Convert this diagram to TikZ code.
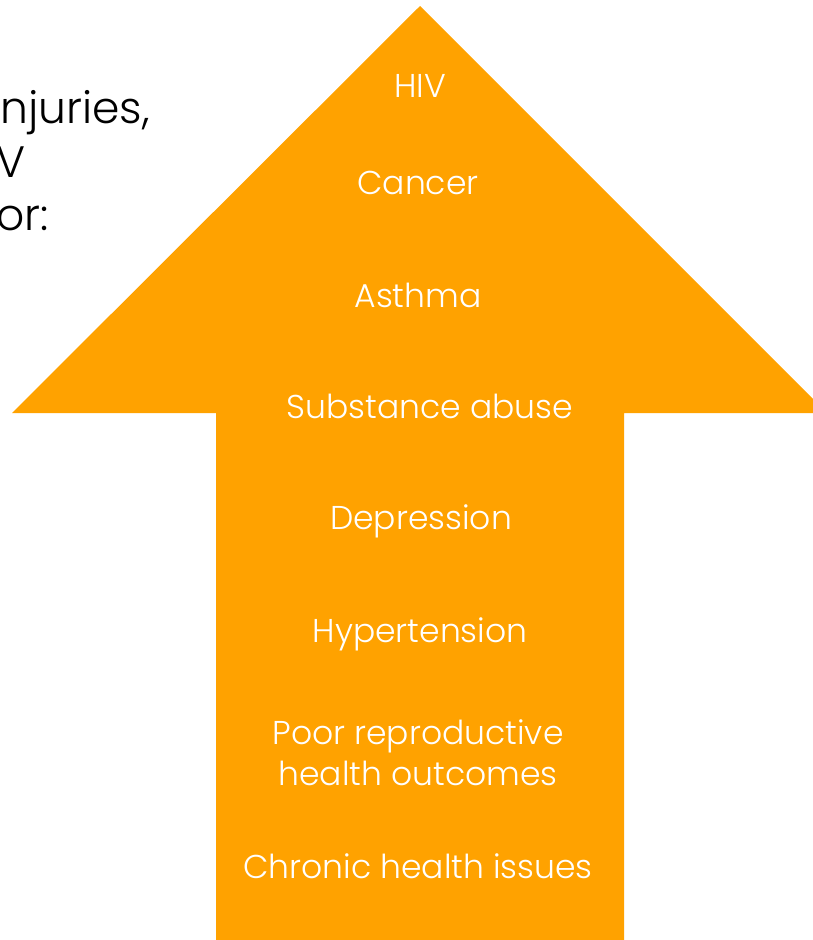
\documentclass[tikz,border=0pt]{standalone}
\usepackage{fontspec}
\setmainfont{Poppins}[UprightFont=* Light]
\definecolor{arroworange}{RGB}{255,162,0}
\tikzset{
  illness/.style={text=white, anchor=base, inner sep=0pt, font=\fontsize{33}{41}\selectfont},
  lead/.style={text=black, anchor=base west, inner sep=0pt, font=\fontsize{44}{53}\selectfont}
}
\begin{document}
\begin{tikzpicture}[x=1pt, y=-1pt]
    \useasboundingbox (0,0) rectangle (813,940);
    \clip (0,0) rectangle (813,940);
    \fill[arroworange] (420,6) -- (827,413) -- (624,413) -- (624,945) -- (216,945) -- (216,413) -- (12,413) -- cycle;
    \node[lead] (injuries) at (0,123) {njuries,};
    \node[lead] (hivend) at (-4,177) {V};
    \node[lead] (forend) at (-4,230) {or:};
    \node[illness] (hiv) at (420,97) {HIV};
    \node[illness] (cancer) at (418,194) {Cancer};
    \node[illness] (asthma) at (418,307) {Asthma};
    \node[illness] (substance) at (430,418) {Substance abuse};
    \node[illness] (depression) at (421,529) {Depression};
    \node[illness] (hypertension) at (420,642) {Hypertension};
    \node[illness, align=center] (reproductive) at (418,785) {Poor reproductive\\health outcomes};
    \node[illness] (chronic) at (418,878) {Chronic health issues};
  \end{tikzpicture}
\end{document}
